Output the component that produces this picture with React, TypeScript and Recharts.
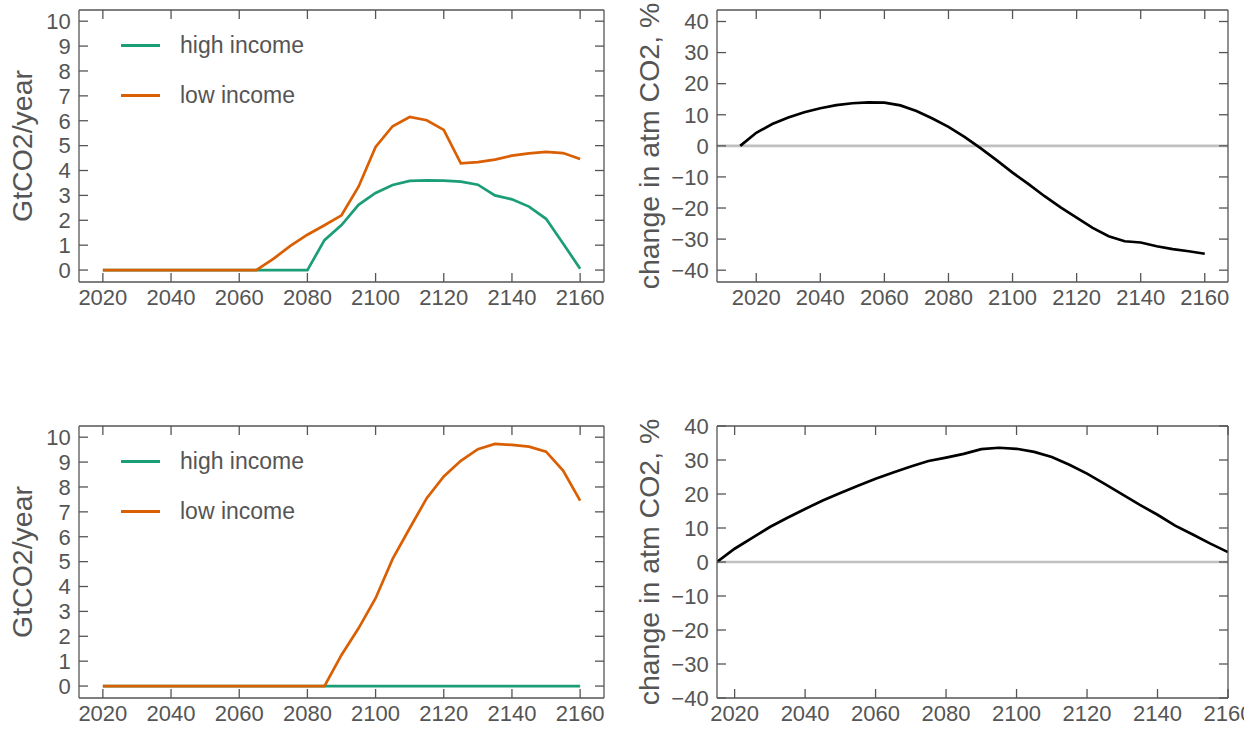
import React from 'react';
import { LineChart, Line, XAxis, YAxis, ReferenceLine, Legend } from 'recharts';

// ---------- data ----------
const emissionYears = [
  2020, 2025, 2030, 2035, 2040, 2045, 2050, 2055, 2060, 2065, 2070, 2075, 2080, 2085, 2090,
  2095, 2100, 2105, 2110, 2115, 2120, 2125, 2130, 2135, 2140, 2145, 2150, 2155, 2160,
];
const topHighIncome = [
  0, 0, 0, 0, 0, 0, 0, 0, 0, 0, 0, 0, 0, 1.2, 1.81,
  2.62, 3.1, 3.42, 3.58, 3.6, 3.59, 3.55, 3.43, 3.0, 2.84, 2.55, 2.06, 1.07, 0.05,
];
const topLowIncome = [
  0, 0, 0, 0, 0, 0, 0, 0, 0, 0, 0.45, 0.97, 1.42, 1.8, 2.2,
  3.35, 4.95, 5.78, 6.15, 6.02, 5.63, 4.29, 4.34, 4.44, 4.6, 4.69, 4.75, 4.7, 4.46,
];
const bottomHighIncome = [
  0, 0, 0, 0, 0, 0, 0, 0, 0, 0, 0, 0, 0, 0, 0,
  0, 0, 0, 0, 0, 0, 0, 0, 0, 0, 0, 0, 0, 0,
];
const bottomLowIncome = [
  0, 0, 0, 0, 0, 0, 0, 0, 0, 0, 0, 0, 0, 0, 1.25,
  2.32, 3.53, 5.11, 6.34, 7.55, 8.42, 9.05, 9.52, 9.73, 9.69, 9.62, 9.42, 8.66, 7.45,
];
const co2Years = [
  2015, 2020, 2025, 2030, 2035, 2040, 2045, 2050, 2055, 2060, 2065, 2070, 2075, 2080, 2085,
  2090, 2095, 2100, 2105, 2110, 2115, 2120, 2125, 2130, 2135, 2140, 2145, 2150, 2155, 2160,
];
const topCo2Change = [
  0, 4.2, 7.0, 9.1, 10.8, 12.1, 13.1, 13.7, 14.0, 13.9, 13.0, 11.2, 8.8, 6.1, 2.9,
  -0.75, -4.6, -8.6, -12.3, -16.2, -19.8, -23.1, -26.4, -29.1, -30.7, -31.1, -32.3, -33.2, -33.9, -34.7,
];
const bottomCo2Change = [
  0, 3.9, 7.1, 10.3, 13.0, 15.6, 18.1, 20.3, 22.4, 24.5, 26.3, 28.1, 29.7, 30.7, 31.8,
  33.2, 33.6, 33.3, 32.4, 30.9, 28.6, 26.0, 23.0, 19.9, 16.8, 13.9, 10.7, 8.1, 5.4, 2.9,
];
const yearTicks = [2020, 2040, 2060, 2080, 2100, 2120, 2140, 2160];
const emissionTicks = [0, 1, 2, 3, 4, 5, 6, 7, 8, 9, 10];
const co2Ticks = [-40, -30, -20, -10, 0, 10, 20, 30, 40];

const topEmissions = emissionYears.map((year, i) => ({ year, high: topHighIncome[i], low: topLowIncome[i] }));
const bottomEmissions = emissionYears.map((year, i) => ({ year, high: bottomHighIncome[i], low: bottomLowIncome[i] }));
const topCo2 = co2Years.map((year, i) => ({ year, change: topCo2Change[i] }));
const bottomCo2 = co2Years.map((year, i) => ({ year, change: bottomCo2Change[i] }));

// ---------- styles ----------
const GRAY = '#555555';
const GREEN = '#1b9e77';
const ORANGE = '#d95f02';
const TICK_LEN = 9;
const axisStroke = { stroke: GRAY, strokeWidth: 1.3 };
const fmt = (v: number) => String(v).replace('-', '\u2212');

// inward ticks, labels outside
const BottomTick = (props: any) => {
  const { x, y, payload } = props;
  return (
    <g>
      <line x1={x} x2={x} y1={y} y2={y - TICK_LEN} stroke={GRAY} strokeWidth={1.3} />
      <text x={x} y={y + 23.2} textAnchor="middle" fill={GRAY} fontSize={22}>
        {fmt(payload.value)}
      </text>
    </g>
  );
};
const TopTick = (props: any) => {
  const { x, y } = props;
  return <line x1={x} x2={x} y1={y} y2={y + TICK_LEN} stroke={GRAY} strokeWidth={1.3} />;
};
const LeftTick = (props: any) => {
  const { x, y, payload } = props;
  return (
    <g>
      <line x1={x} x2={x + TICK_LEN} y1={y} y2={y} stroke={GRAY} strokeWidth={1.3} />
      <text x={x - 8.3} y={y} dy="0.355em" textAnchor="end" fill={GRAY} fontSize={22}>
        {fmt(payload.value)}
      </text>
    </g>
  );
};
const RightTick = (props: any) => {
  const { x, y } = props;
  return <line x1={x} x2={x - TICK_LEN} y1={y} y2={y} stroke={GRAY} strokeWidth={1.3} />;
};

const AxisTitle = (props: any) => {
  const vb = props.viewBox || { x: 0, y: 0, width: 0, height: 0 };
  const cx = (vb.x || 0) + props.dx0;
  const cy = (vb.y || 0) + (vb.height || 0) / 2;
  return (
    <text x={cx} y={cy} transform={`rotate(-90 ${cx} ${cy})`} textAnchor="middle" fontSize={28.5} fill={GRAY}>
      {props.text}
    </text>
  );
};

const LegendContent = (props: any) => {
  const payload = props.payload || [];
  return (
    <div>
      {payload.map((entry: any) => (
        <div key={entry.value} style={{ display: 'flex', alignItems: 'center', height: 50 }}>
          <div style={{ width: 39, height: 3, background: entry.color }} />
          <span style={{ marginLeft: 20, fontSize: 23, color: GRAY, lineHeight: 1, whiteSpace: 'nowrap' }}>
            {entry.value}
          </span>
        </div>
      ))}
    </div>
  );
};

function frameAxes(
  xDomain: [number, number],
  yDomain: [number, number],
  yTicks: number[],
  yWidth: number,
  xHeight: number,
  title: string,
  titleX: number,
) {
  return [
    <XAxis
      key="xb"
      dataKey="year"
      type="number"
      domain={xDomain}
      ticks={yearTicks}
      interval={0}
      allowDataOverflow
      height={xHeight}
      tickSize={0}
      tickMargin={0}
      tick={BottomTick}
      tickLine={false}
      axisLine={axisStroke}
    />,
    <XAxis
      key="xt"
      xAxisId="top"
      orientation="top"
      dataKey="year"
      type="number"
      domain={xDomain}
      ticks={yearTicks}
      interval={0}
      allowDataOverflow
      height={1}
      tickSize={0}
      tickMargin={0}
      tick={TopTick}
      tickLine={false}
      axisLine={axisStroke}
    />,
    <YAxis
      key="yl"
      type="number"
      domain={yDomain}
      ticks={yTicks}
      interval={0}
      allowDataOverflow
      width={yWidth}
      tickSize={0}
      tickMargin={0}
      tick={LeftTick}
      tickLine={false}
      axisLine={axisStroke}
      label={<AxisTitle text={title} dx0={titleX} />}
    />,
    <YAxis
      key="yr"
      yAxisId="right"
      orientation="right"
      type="number"
      domain={yDomain}
      ticks={yTicks}
      interval={0}
      allowDataOverflow
      width={1}
      tickSize={0}
      tickMargin={0}
      tick={RightTick}
      tickLine={false}
      axisLine={axisStroke}
    />,
  ];
}

const panel = (left: number, top: number, width: number, height: number): React.CSSProperties => ({
  position: 'absolute',
  left,
  top,
  width,
  height,
  overflow: 'hidden',
});

export default function App() {
  return (
    <div
      style={{
        position: 'absolute',
        left: 0,
        top: 0,
        width: 1260,
        height: 730,
        background: '#ffffff',
        fontFamily: '"Liberation Sans", Arial, Helvetica, sans-serif',
      }}
    >
      {/* top-left */}
      <div style={panel(0, 0, 620, 320)}>
        <LineChart width={620} height={320} data={topEmissions} margin={{ top: 9, right: 15, bottom: 0, left: 0 }}>
          {frameAxes([2013, 2167], [-0.48, 10.45], emissionTicks, 79, 38, 'GtCO2/year', 31.5)}
          <Line dataKey="high" name="high income" stroke={GREEN} strokeWidth={2.7} dot={false} isAnimationActive={false} />
          <Line dataKey="low" name="low income" stroke={ORANGE} strokeWidth={2.7} dot={false} isAnimationActive={false} />
          <Legend
            layout="horizontal"
            verticalAlign="middle"
            align="center"
            wrapperStyle={{ left: 121, top: 20.5, width: 'auto', height: 'auto' }}
            content={LegendContent}
          />
        </LineChart>
      </div>

      {/* top-right */}
      <div style={panel(620, 0, 640, 320)}>
        <LineChart width={640} height={320} data={topCo2} margin={{ top: 9, right: 31, bottom: 0, left: 0 }}>
          {frameAxes([2007.75, 2167.25], [-43.8, 43.7], co2Ticks, 97, 38, 'change in atm CO2, %', 39)}
          <ReferenceLine y={0} stroke="#c0c0c0" strokeWidth={2.6} />
          <Line dataKey="change" name="change in atm CO2" stroke="#000000" strokeWidth={2.7} dot={false} isAnimationActive={false} />
        </LineChart>
      </div>

      {/* bottom-left */}
      <div style={panel(0, 410, 620, 320)}>
        <LineChart width={620} height={320} data={bottomEmissions} margin={{ top: 15, right: 15, bottom: 0, left: 0 }}>
          {frameAxes([2013, 2167], [-0.48, 10.45], emissionTicks, 79, 32, 'GtCO2/year', 31.5)}
          <Line dataKey="high" name="high income" stroke={GREEN} strokeWidth={2.7} dot={false} isAnimationActive={false} />
          <Line dataKey="low" name="low income" stroke={ORANGE} strokeWidth={2.7} dot={false} isAnimationActive={false} />
          <Legend
            layout="horizontal"
            verticalAlign="middle"
            align="center"
            wrapperStyle={{ left: 121, top: 26.5, width: 'auto', height: 'auto' }}
            content={LegendContent}
          />
        </LineChart>
      </div>

      {/* bottom-right */}
      <div style={panel(620, 410, 624, 320)}>
        <LineChart width={624} height={320} data={bottomCo2} margin={{ top: 15, right: 15, bottom: 0, left: 0 }}>
          {frameAxes([2015, 2160], [-40, 40], co2Ticks, 97, 32, 'change in atm CO2, %', 39)}
          <ReferenceLine y={0} stroke="#c0c0c0" strokeWidth={2.6} />
          <Line dataKey="change" name="change in atm CO2" stroke="#000000" strokeWidth={2.7} dot={false} isAnimationActive={false} />
        </LineChart>
      </div>
    </div>
  );
}
